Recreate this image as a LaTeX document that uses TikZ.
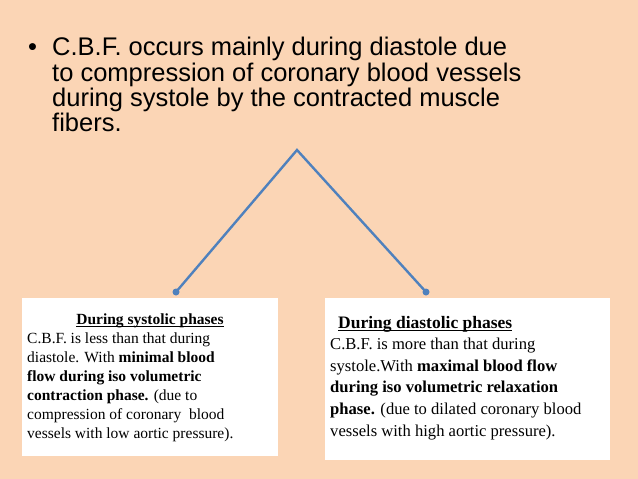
\documentclass[tikz,border=0pt]{standalone}
\usepackage{fontspec}
\setmainfont{Liberation Serif}
\newfontfamily\arial{Liberation Sans}
\begin{document}
\begin{tikzpicture}[x=1pt,y=-1pt,
  bul/.style={anchor=base west,inner sep=0,font=\arial\fontsize{25.5}{28}\selectfont},
  ln/.style={draw=lineblue,line width=2.4pt},
  dot/.style={circle,fill=lineblue,inner sep=0,minimum size=7pt},
  box/.style={fill=white,draw=none},
  lt/.style={anchor=base west,inner sep=0,font=\fontsize{15.5}{17}\selectfont},
  rt/.style={anchor=base west,inner sep=0,font=\fontsize{16.6}{18}\selectfont}]
\definecolor{bg}{HTML}{FBD5B5}
\definecolor{lineblue}{HTML}{4F81BD}
\fill[bg] (0,0) rectangle (638,479);
\useasboundingbox (0,0) rectangle (638,479);
\node[bul] (b0) at (28,56) {•};
\node[bul] (t1) at (52,56) {C.B.F. occurs mainly during diastole due};
\node[bul] (t2) at (52,81) {to compression of coronary blood vessels};
\node[bul] (t3) at (52,106) {during systole by the contracted muscle};
\node[bul] (t4) at (52,131) {fibers.};
\coordinate (apex) at (297,150);
\node[dot] (dl) at (176,292) {};
\node[dot] (dr) at (426,292) {};
\draw[ln] (dl.center) -- (apex) -- (dr.center);
\node[box,minimum width=256pt,minimum height=158pt,anchor=north west] (lb) at (22,298) {};
\node[box,minimum width=285pt,minimum height=162pt,anchor=north west] (rb) at (325,298) {};
\node[anchor=base,inner sep=0,font=\fontsize{15.5}{17}\selectfont\bfseries] (lh) at (150,324) {During systolic phases};
\draw[line width=0.8pt] ([yshift=-2pt]lh.base west) -- ([yshift=-2pt]lh.base east);
\node[lt] (l1) at (27,343) {C.B.F. is less than that during};
\node[lt] (l2) at (27,362) {diastole. With \textbf{minimal blood}};
\node[lt] (l3) at (27,381) {\textbf{flow during iso volumetric}};
\node[lt] (l4) at (27,400) {\textbf{contraction phase.} (due to};
\node[lt] (l5) at (27,419) {compression of coronary\ \ blood};
\node[lt] (l6) at (27,438) {vessels with low aortic pressure).};
\node[anchor=base west,inner sep=0,font=\fontsize{17.5}{19}\selectfont\bfseries] (rh) at (338,328) {During diastolic phases};
\draw[line width=0.9pt] ([yshift=-2.2pt]rh.base west) -- ([yshift=-2.2pt]rh.base east);
\node[rt] (r1) at (330,349) {C.B.F. is more than that during};
\node[rt] (r2) at (330,371) {systole.With \textbf{maximal blood flow}};
\node[rt] (r3) at (330,392) {\textbf{during iso volumetric relaxation}};
\node[rt] (r4) at (330,414) {\textbf{phase.} (due to dilated coronary blood};
\node[rt] (r5) at (330,436) {vessels with\ high aortic pressure).};
\end{tikzpicture}
\end{document}
